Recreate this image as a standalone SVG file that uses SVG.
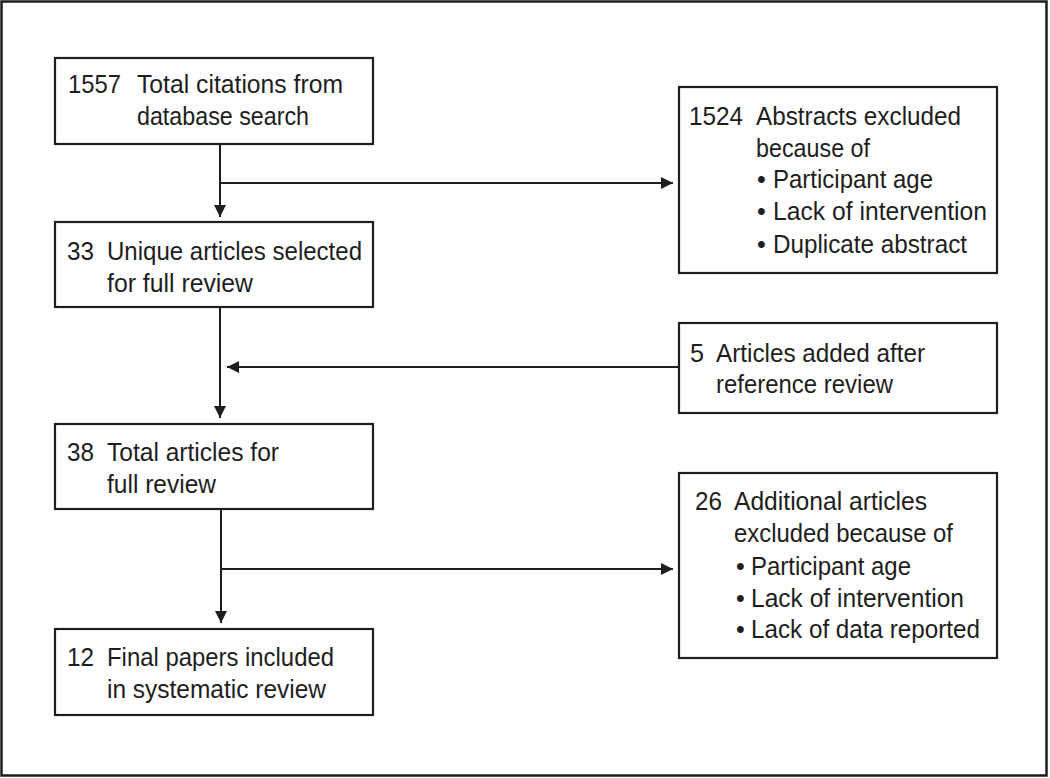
<svg xmlns="http://www.w3.org/2000/svg" width="1050" height="778" viewBox="0 0 1050 778">
<defs>
<marker id="ah" markerUnits="userSpaceOnUse" markerWidth="14" markerHeight="14" viewBox="0 0 14 14" refX="12" refY="7" orient="auto">
<path d="M0,1 L12,7 L0,13 Z" fill="#1e1e1e"/>
</marker>
<style>
.box{fill:#fff;stroke:#1e1e1e;stroke-width:2.2}
.ln{fill:none;stroke:#1e1e1e;stroke-width:2}
text{font-family:"Liberation Sans",Arial,sans-serif;font-size:25px;fill:#1e1e1e}
</style>
</defs>
<rect x="0" y="0" width="1050" height="778" fill="#fff"/>
<rect x="1.5" y="1.5" width="1045" height="774" fill="none" stroke="#1e1e1e" stroke-width="2.5"/>
<g id="connectors">
<line class="ln" x1="220" y1="144" x2="220" y2="217" marker-end="url(#ah)"/>
<line class="ln" x1="220" y1="183" x2="673" y2="183" marker-end="url(#ah)"/>
<line class="ln" x1="220" y1="307" x2="220" y2="418" marker-end="url(#ah)"/>
<line class="ln" x1="679" y1="367" x2="227" y2="367" marker-end="url(#ah)"/>
<line class="ln" x1="221" y1="509" x2="221" y2="623" marker-end="url(#ah)"/>
<line class="ln" x1="221" y1="569" x2="673" y2="569" marker-end="url(#ah)"/>
</g>
<g id="n1">
<rect class="box" x="55" y="58" width="318" height="86"/>
<text x="68" y="93" textLength="53" lengthAdjust="spacingAndGlyphs">1557</text>
<text x="137" y="93" textLength="206" lengthAdjust="spacingAndGlyphs">Total citations from</text>
<text x="137" y="125" textLength="172" lengthAdjust="spacingAndGlyphs">database search</text>
</g>
<g id="n2">
<rect class="box" x="55" y="222" width="318" height="85"/>
<text x="67" y="260" textLength="27" lengthAdjust="spacingAndGlyphs">33</text>
<text x="107" y="260" textLength="255" lengthAdjust="spacingAndGlyphs">Unique articles selected</text>
<text x="107" y="292" textLength="146" lengthAdjust="spacingAndGlyphs">for full review</text>
</g>
<g id="n3">
<rect class="box" x="55" y="424" width="318" height="85"/>
<text x="67" y="461" textLength="27" lengthAdjust="spacingAndGlyphs">38</text>
<text x="107" y="461" textLength="172" lengthAdjust="spacingAndGlyphs">Total articles for</text>
<text x="107" y="493" textLength="109" lengthAdjust="spacingAndGlyphs">full review</text>
</g>
<g id="n4">
<rect class="box" x="55" y="629" width="318" height="86"/>
<text x="67" y="666" textLength="27" lengthAdjust="spacingAndGlyphs">12</text>
<text x="107" y="666" textLength="227" lengthAdjust="spacingAndGlyphs">Final papers included</text>
<text x="107" y="698" textLength="219" lengthAdjust="spacingAndGlyphs">in systematic review</text>
</g>
<g id="r1">
<rect class="box" x="679" y="87" width="318" height="186"/>
<text x="689" y="125" textLength="54" lengthAdjust="spacingAndGlyphs">1524</text>
<text x="756" y="125" textLength="205" lengthAdjust="spacingAndGlyphs">Abstracts excluded</text>
<text x="756" y="157" textLength="114" lengthAdjust="spacingAndGlyphs">because of</text>
<text x="757" y="188">•</text>
<text x="773" y="188" textLength="160" lengthAdjust="spacingAndGlyphs">Participant age</text>
<text x="757" y="220">•</text>
<text x="773" y="220" textLength="214" lengthAdjust="spacingAndGlyphs">Lack of intervention</text>
<text x="757" y="253">•</text>
<text x="773" y="253" textLength="194" lengthAdjust="spacingAndGlyphs">Duplicate abstract</text>
</g>
<g id="r2">
<rect class="box" x="679" y="323" width="318" height="90"/>
<text x="690" y="362" textLength="14" lengthAdjust="spacingAndGlyphs">5</text>
<text x="716" y="362" textLength="209" lengthAdjust="spacingAndGlyphs">Articles added after</text>
<text x="716" y="393" textLength="177" lengthAdjust="spacingAndGlyphs">reference review</text>
</g>
<g id="r3">
<rect class="box" x="679" y="473" width="318" height="185"/>
<text x="695" y="510" textLength="27" lengthAdjust="spacingAndGlyphs">26</text>
<text x="734" y="510" textLength="193" lengthAdjust="spacingAndGlyphs">Additional articles</text>
<text x="734" y="542" textLength="219" lengthAdjust="spacingAndGlyphs">excluded because of</text>
<text x="736" y="575">•</text>
<text x="751" y="575" textLength="160" lengthAdjust="spacingAndGlyphs">Participant age</text>
<text x="736" y="607">•</text>
<text x="751" y="607" textLength="213" lengthAdjust="spacingAndGlyphs">Lack of intervention</text>
<text x="736" y="638">•</text>
<text x="751" y="638" textLength="229" lengthAdjust="spacingAndGlyphs">Lack of data reported</text>
</g>
</svg>
